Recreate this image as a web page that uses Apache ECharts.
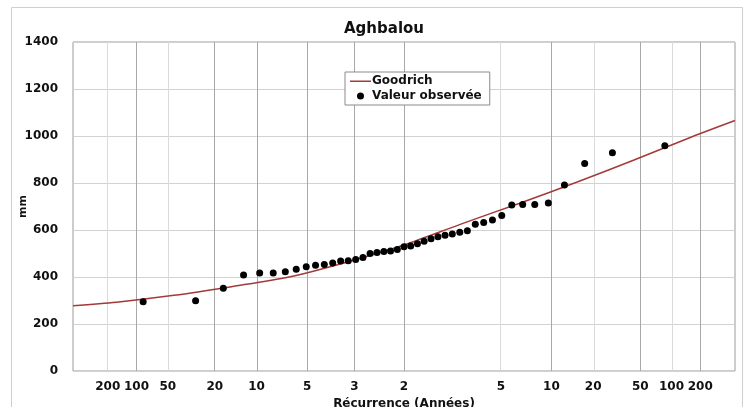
<!DOCTYPE html>
<html>
<head>
<meta charset="utf-8">
<script src="https://cdn.jsdelivr.net/npm/echarts@6/dist/echarts.min.js"></script>
<style>
  html, body { margin: 0; padding: 0; background: #fff; }
  #chart { width: 750px; height: 407px; }
</style>
</head>
<body>
<div id="chart"></div>
<script>
  // recurrence ticks (normal quantile position, label)
  var tickZ = [-2.576, -2.326, -2.054, -1.645, -1.282, -0.842, -0.431, 0, 0.842, 1.282, 1.645, 2.054, 2.326, 2.576];
  var tickLabels = ['200', '100', '50', '20', '10', '5', '3', '2', '5', '10', '20', '50', '100', '200'];

  // observed annual totals (mm) with their plotting position
  var obsZ = [-2.268, -1.812, -1.571, -1.395, -1.255, -1.137, -1.032, -0.937, -0.850, -0.769, -0.693,
    -0.620, -0.551, -0.485, -0.420, -0.357, -0.295, -0.235, -0.175, -0.117, -0.058, 0,
    0.058, 0.117, 0.175, 0.235, 0.295, 0.357, 0.420, 0.485, 0.551, 0.620, 0.693,
    0.769, 0.850, 0.937, 1.032, 1.137, 1.255, 1.395, 1.571, 1.812, 2.268];
  var obsMm = [295, 299, 352, 408, 417, 417, 422, 433, 444, 450, 453,
    460, 468, 469, 474, 483, 500, 504, 508, 511, 517, 529,
    532, 541, 552, 563, 571, 578, 583, 590, 597, 625, 632,
    643, 662, 706, 708, 708, 715, 791, 883, 929, 958];

  // Goodrich fitted curve
  var curveZ = [-2.878, -2.5, -2.0, -1.5, -1.0, -0.5, 0, 0.5, 1.0, 1.5, 2.0, 2.5, 2.878];
  var curveMm = [278, 293, 322, 359, 400, 463, 536, 626, 713, 803, 898, 996, 1066];

  var font = 'DejaVu Sans';
  var lightLines = [0, 2, 8, 10, 12];

  var chart = echarts.init(document.getElementById('chart'));

  var gridLines = tickZ.map(function(z, i) {
    return {
      xAxis: z,
      lineStyle: { color: lightLines.indexOf(i) >= 0 ? '#dadada' : '#a8a8a8', width: 1, type: 'solid' }
    };
  });

  chart.setOption({
    backgroundColor: '#fff',
    animation: false,
    graphic: [{
      type: 'rect',
      shape: { x: 11.5, y: 7.5, width: 731, height: 420 },
      style: { fill: 'none', stroke: '#cfcfcf', lineWidth: 1 },
      z: -10
    }],
    title: {
      text: 'Aghbalou',
      left: 379,
      textAlign: 'center',
      top: 17,
      textStyle: { fontFamily: font, fontWeight: 'bold', fontSize: 15, color: '#111' }
    },
    legend: {
      orient: 'vertical',
      left: 345,
      top: 72,
      padding: [3, 8, 3, 5],
      itemGap: 3,
      itemWidth: 21,
      itemHeight: 7,
      borderColor: '#8a8a8a',
      borderWidth: 1,
      backgroundColor: '#fff',
      textStyle: { fontFamily: font, fontWeight: 'bold', fontSize: 12, color: '#111', padding: [0, 0, 0, -4] },
      data: [
        { name: 'Goodrich', icon: 'path://M0,0L0.01,0M0,3L21,3L21,4.5L0,4.5ZM0,7L0.01,7' },
        { name: 'Valeur observée', icon: 'circle' }
      ]
    },
    grid: {
      left: 73, right: 15, top: 42, bottom: 36,
      containLabel: false,
      outerBoundsMode: 'none',
      show: true,
      borderColor: '#9a9a9a',
      borderWidth: 1
    },
    xAxis: {
      type: 'value',
      min: -2.878,
      max: 2.878,
      name: 'Récurrence (Années)',
      nameLocation: 'middle',
      nameGap: 27,
      nameMoveOverlap: false,
      nameTextStyle: { fontFamily: font, fontWeight: 'bold', fontSize: 12, color: '#111' },
      axisLine: { show: false },
      axisTick: { show: false },
      splitLine: { show: false },
      axisLabel: {
        customValues: tickZ,
        margin: 10,
        fontFamily: font,
        fontWeight: 'bold',
        fontSize: 12,
        color: '#111',
        formatter: function(v) {
          for (var i = 0; i < tickZ.length; i++) {
            if (Math.abs(tickZ[i] - v) < 1e-6) return tickLabels[i];
          }
          return '';
        }
      }
    },
    yAxis: {
      type: 'value',
      min: 0,
      max: 1400,
      interval: 200,
      name: 'mm',
      nameLocation: 'middle',
      nameRotate: 90,
      nameGap: 44,
      nameMoveOverlap: false,
      nameTextStyle: { fontFamily: font, fontWeight: 'bold', fontSize: 11, color: '#111' },
      axisLine: { show: false },
      axisTick: { show: false },
      splitLine: { lineStyle: { color: '#d2d2d2', width: 1 } },
      axisLabel: {
        margin: 15, fontFamily: font, fontWeight: 'bold', fontSize: 12, color: '#111',
        formatter: function(v) { return String(v); }
      }
    },
    series: [
      {
        name: 'Goodrich',
        type: 'line',
        smooth: 0.3,
        symbol: 'none',
        color: '#a33a3a',
        lineStyle: { color: '#a33a3a', width: 1.5 },
        data: curveZ.map(function(z, i) { return [z, curveMm[i]]; }),
        markLine: {
          silent: true,
          symbol: 'none',
          label: { show: false },
          z: 1,
          data: gridLines
        },
        z: 3
      },
      {
        name: 'Valeur observée',
        type: 'scatter',
        symbol: 'circle',
        symbolSize: 7,
        color: '#000',
        itemStyle: { color: '#000', opacity: 1 },
        data: obsZ.map(function(z, i) { return [z, obsMm[i]]; }),
        z: 4
      }
    ]
  });
</script>
</body>
</html>
